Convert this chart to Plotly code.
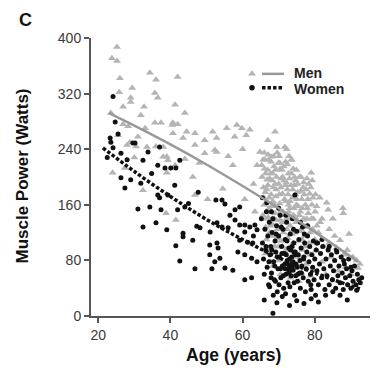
import plotly.graph_objects as go

# ---------------- data ----------------
men_age = [
    25.2, 23.8, 25.2, 26.0, 34.3, 36.0, 42.0, 25.8, 29.4, 29.0,
    29.0, 35.7, 36.5, 26.9, 32.7, 41.3, 44.0, 23.5, 31.8, 26.9,
    28.3, 35.7, 37.4, 40.7, 42.0, 28.0, 30.5, 33.5, 36.0, 40.7,
    43.5, 39.0, 24.0, 38.0, 39.3, 44.0, 32.4, 38.8, 41.5, 25.5,
    28.8, 31.0, 38.0, 27.4, 39.0, 41.3, 44.5, 40.5, 33.0, 30.0,
    46.8, 49.5, 51.7, 55.6, 58.4, 59.8, 61.0, 57.8, 52.8, 52.3,
    46.8, 49.5, 52.8, 57.3, 64.0, 54.5, 50.3, 46.8, 60.6, 63.4,
    65.3, 64.8, 46.2, 62.0, 60.0, 48.0, 56.0, 63.0, 69.0, 67.0,
    69.5, 71.7, 70.3, 68.0, 72.2, 66.0, 73.5, 65.6, 66.1, 66.3,
    66.0, 66.4, 66.8, 66.6, 67.2, 67.0, 67.4, 67.1, 67.6, 67.8,
    68.1, 68.3, 68.0, 68.5, 68.7, 68.9, 69.2, 69.0, 69.4, 69.6,
    69.8, 70.1, 70.0, 70.3, 70.4, 70.6, 70.9, 71.0, 71.2, 71.3,
    71.5, 71.7, 71.9, 72.0, 72.2, 72.4, 72.5, 72.7, 72.9, 73.0,
    73.2, 73.4, 73.6, 73.8, 74.0, 74.1, 74.3, 74.5, 74.7, 74.9,
    75.1, 75.3, 75.5, 75.6, 75.8, 76.0, 76.2, 76.4, 76.6, 76.8,
    77.0, 77.2, 77.4, 77.6, 77.8, 78.0, 78.2, 78.4, 78.6, 78.8,
    79.0, 79.2, 79.4, 79.6, 79.8, 80.0, 80.2, 80.4, 68.2, 70.8,
    72.8, 74.6, 76.5, 69.5, 71.1, 73.1, 67.5, 65.8, 66.9, 70.5,
    73.3, 76.3, 78.9, 68.4, 81.4, 83.3, 83.7, 87.8, 87.9, 80.5,
    82.0, 84.0, 85.5, 87.0, 89.0, 91.6, 92.0, 90.5, 86.0, 88.5,
    81.0, 82.5, 84.5, 83.0, 86.5, 85.0, 89.5, 81.5, 90.0, 92.5,
    84.0, 88.0, 82.0,
    65.4, 65.9, 66.2, 66.5, 66.7, 67.0, 67.3, 67.5, 67.7, 67.9,
    68.2, 68.4, 68.6, 68.8, 69.1, 69.3, 69.7, 69.9, 70.2, 70.5,
    70.7, 71.0, 71.4, 71.6, 71.8, 72.1, 72.3, 72.6, 72.9, 73.1,
    73.3, 73.5, 73.7, 73.9, 74.2, 74.4, 74.8, 75.0, 75.2, 75.7,
    75.9, 76.1, 76.7, 77.1, 77.3, 77.5, 77.9, 78.3, 78.7, 79.1,
    79.5, 80.1, 80.6, 70.0, 68.6, 72.0, 74.0, 76.0, 66.3, 67.8,
    66.4, 67.1, 67.9, 68.3, 69.0, 69.6, 70.4, 71.1, 71.9, 72.4,
    73.0, 73.6, 74.3, 74.9, 75.4, 76.2, 76.9, 77.6, 78.1, 78.9,
    79.3, 67.4, 68.9, 70.6, 72.7, 74.6, 76.5, 77.8, 65.7, 69.3,
]
men_power = [
    387, 371, 367, 342, 350, 340, 344, 322, 328, 314,
    308, 321, 314, 301, 301, 304, 292, 292, 289, 276,
    273, 278, 278, 278, 276, 246, 244, 243, 244, 263,
    256, 229, 206, 229, 224, 226, 181, 148, 138, 260,
    250, 258, 243, 213, 206, 217, 265, 275, 270, 228,
    263, 253, 265, 270, 275, 270, 260, 258, 256, 239,
    246, 234, 236, 217, 217, 183, 168, 174, 168, 150,
    217, 236, 200, 268, 240, 220, 230, 190, 265, 253,
    243, 243, 220, 229, 240, 235, 225, 145, 212, 178,
    160, 128, 196, 110, 225, 188, 170, 142, 95, 205,
    158, 132, 118, 185, 215, 100, 172, 148, 200, 125,
    80, 230, 190, 162, 138, 108, 210, 176, 150, 120,
    195, 92, 222, 165, 140, 182, 112, 205, 70, 155,
    130, 188, 100, 170, 212, 145, 120, 85, 195, 160,
    135, 178, 108, 50, 200, 150, 125, 168, 95, 185,
    140, 115, 160, 75, 198, 130, 148, 105, 176, 88,
    206, 160, 125, 140, 65, 110, 175, 95, 140, 128,
    150, 175, 110, 112, 100, 118, 120, 185, 150, 60,
    55, 62, 58, 72, 170, 163, 153, 155, 148, 158,
    140, 125, 115, 109, 95, 80, 69, 85, 98, 70,
    120, 100, 85, 60, 65, 140, 118, 135, 60, 75,
    105, 88, 78,
    200, 170, 225, 140, 182, 210, 155, 198, 130, 175,
    195, 165, 230, 140, 210, 182, 158, 220, 175, 150,
    198, 135, 215, 168, 145, 192, 125, 175, 230, 165,
    142, 205, 118, 182, 155, 200, 135, 168, 190, 145,
    122, 180, 138, 175, 100, 128, 155, 190, 120, 140,
    170, 150, 130, 100, 115, 95, 105, 85, 90, 78,
    205, 232, 222, 205, 190, 235, 212, 200, 188, 218,
    198, 225, 188, 210, 158, 200, 192, 182, 168, 185,
    195, 150, 160, 185, 160, 142, 155, 140, 225, 138,
]

women_age = [
    24.1, 24.7, 23.3, 23.5, 29.6, 24.1, 26.3, 33.8, 30.2, 37.0,
    36.5, 38.5, 40.1, 41.5, 42.6, 32.4, 26.3, 29.0, 27.4, 31.8,
    36.5, 37.0, 39.3, 41.2, 31.0, 34.3, 37.4, 42.0, 36.0, 44.0,
    32.4, 39.0, 43.5, 43.5, 41.5, 42.6, 25.5, 28.0, 34.8, 22.5,
    47.7, 52.6, 54.3, 55.1, 57.9, 59.2, 52.9, 54.3, 56.0, 57.9,
    59.2, 60.6, 62.0, 63.4, 64.0, 47.3, 48.2, 51.0, 60.6, 46.2,
    50.9, 52.9, 53.2, 50.9, 53.7, 52.3, 46.8, 51.5, 55.1, 57.3,
    58.7, 60.6, 62.5, 60.6, 62.5, 64.0, 59.2, 61.4, 62.8, 45.0,
    56.5, 63.0, 66.7, 65.5,
    65.2, 65.5, 65.8, 66.0, 66.2, 66.4, 66.6, 66.8, 67.0, 67.2,
    67.4, 67.6, 67.8, 68.0, 68.2, 68.4, 68.6, 68.8, 69.0, 69.2,
    69.4, 69.6, 69.8, 70.0, 70.2, 70.4, 70.6, 70.8, 71.0, 71.2,
    71.4, 71.6, 71.8, 72.0, 72.2, 72.4, 72.6, 72.8, 73.0, 73.2,
    73.4, 73.6, 73.8, 74.0, 74.2, 74.4, 74.6, 74.8, 75.0, 75.2,
    75.4, 75.6, 75.8, 76.0, 76.2, 76.4, 76.6, 76.8, 77.0, 77.2,
    77.4, 77.6, 77.8, 78.0, 78.2, 78.4, 78.6, 78.8, 79.0, 79.2,
    79.4, 79.6, 79.8, 80.0, 80.2, 80.4, 80.6, 80.8, 81.0, 81.3,
    81.6, 81.9, 82.2, 82.5, 82.8, 83.1, 83.4, 83.7, 84.0, 84.3,
    84.6, 84.9, 85.2, 85.5, 85.8, 86.1, 86.4, 86.7, 87.0, 87.3,
    87.6, 87.9, 88.2, 88.5, 88.8, 89.1, 89.4, 89.7, 90.0, 90.3,
    90.6, 91.0, 91.4, 91.8, 92.2, 92.6, 93.0, 68.1, 68.9, 69.7,
    70.5, 71.3, 72.1, 72.9, 73.7, 74.3, 75.1, 75.9, 69.1, 70.9,
    71.7, 73.3, 74.7, 76.3, 67.3, 67.9, 66.5, 69.3, 70.7, 72.3,
    74.1, 77.1, 78.9, 76.9, 73.1, 71.9, 70.1, 68.5, 66.0, 67.5,
    68.4, 69.5, 71.0, 73.0, 75.0, 77.0, 79.0, 81.0, 83.0, 85.0,
    87.0, 89.0, 91.6, 74.5, 80.5, 82.0, 84.0, 86.0, 88.0, 90.0,
    72.0, 70.0, 68.0, 76.0, 78.0,
    72.5, 73.0, 73.5, 74.0, 74.5, 72.8, 73.8, 74.2, 71.8, 75.3,
]
women_power = [
    316, 279, 256, 250, 249, 242, 234, 236, 249, 243,
    217, 213, 213, 213, 224, 224, 199, 196, 184, 191,
    174, 170, 174, 188, 154, 157, 153, 153, 134, 157,
    128, 124, 119, 114, 101, 79, 262, 225, 205, 228,
    178, 167, 167, 161, 153, 157, 134, 128, 127, 138,
    131, 131, 128, 131, 124, 129, 127, 121, 121, 109,
    102, 105, 98, 88, 83, 78, 68, 68, 69, 66,
    92, 88, 83, 52, 55, 78, 109, 106, 105, 162,
    145, 115, 163, 170,
    140, 105, 82, 60, 125, 95, 150, 70, 115, 45,
    135, 88, 100, 62, 120, 140, 78, 52, 108, 92,
    130, 35, 68, 115, 85, 145, 55, 100, 72, 125,
    40, 90, 110, 60, 135, 80, 48, 98, 70, 118,
    58, 85, 140, 66, 105, 30, 92, 75, 122, 50,
    88, 110, 62, 40, 98, 72, 128, 55, 85, 105,
    35, 68, 92, 115, 50, 78, 100, 60, 38, 88,
    70, 108, 52, 82, 30, 95, 65, 105, 45, 75,
    90, 55, 100, 68, 38, 82, 58, 95, 45, 72,
    88, 52, 65, 80, 40, 92, 58, 72, 48, 85,
    62, 38, 75, 55, 68, 45, 82, 58, 40, 65,
    50, 72, 45, 60, 52, 48, 55, 95, 72, 85,
    68, 58, 88, 62, 100, 48, 70, 80, 50, 90,
    75, 95, 58, 62, 78, 55, 100, 118, 128, 108,
    125, 118, 45, 82, 42, 32, 45, 30, 23, 42,
    4, 19, 28, 15, 22, 18, 25, 20, 30, 35,
    30, 23, 37, 174, 105, 110, 100, 95, 80, 70,
    145, 155, 150, 135, 130,
    75, 82, 68, 78, 88, 65, 72, 92, 68, 60,
]

# fitted curves
men_fit_age = [23, 30, 40, 50, 60, 70, 80, 92]
men_fit_power = [292, 274, 247, 218, 187, 155, 121, 78]
women_fit_age = [21.3, 30, 40, 50, 60, 70, 80, 92.5]
women_fit_power = [242, 208, 172, 139, 110, 84, 62, 39]

x_ticks = [20, 40, 60, 80]
y_ticks = [0, 80, 160, 240, 320, 400]
series_names = ["Men", "Women"]

assert len(men_age) == len(men_power)
assert len(women_age) == len(women_power)

# ---------------- styles ----------------
MEN_COLOR = "#b4b4b4"
MEN_LINE = "#999999"
WOMEN_COLOR = "#111111"
FONT = "Liberation Sans, Arial, Helvetica, sans-serif"
DOT_DASH = "3.5px,2px"

fig = go.Figure()

fig.add_trace(go.Scatter(
    x=men_age, y=men_power, mode="markers", name="Men",
    marker=dict(symbol="triangle-up", size=7, color=MEN_COLOR, line=dict(width=0)),
    showlegend=False))
fig.add_trace(go.Scatter(
    x=women_age, y=women_power, mode="markers", name="Women",
    marker=dict(symbol="circle", size=5, color=WOMEN_COLOR, line=dict(width=0)),
    showlegend=False))
fig.add_trace(go.Scatter(
    x=men_fit_age, y=men_fit_power, mode="lines", line=dict(color=MEN_LINE, width=2.5, shape="spline"),
    showlegend=False))
fig.add_trace(go.Scatter(
    x=women_fit_age, y=women_fit_power, mode="lines",
    line=dict(color=WOMEN_COLOR, width=3.5, shape="spline", dash=DOT_DASH),
    showlegend=False))

# ---- hand-made legend on an overlay [0,1] axis pair ----
leg_rows = [0.871, 0.821]
fig.add_trace(go.Scatter(x=[0.577], y=[leg_rows[0]], xaxis="x2", yaxis="y2", mode="markers",
                         marker=dict(symbol="triangle-up", size=7, color=MEN_COLOR),
                         showlegend=False, hoverinfo="skip"))
fig.add_trace(go.Scatter(x=[0.613, 0.692], y=[leg_rows[0], leg_rows[0]], xaxis="x2", yaxis="y2",
                         mode="lines", line=dict(color=MEN_LINE, width=2.5),
                         showlegend=False, hoverinfo="skip"))
fig.add_trace(go.Scatter(x=[0.577], y=[leg_rows[1]], xaxis="x2", yaxis="y2", mode="markers",
                         marker=dict(symbol="circle", size=5.5, color=WOMEN_COLOR),
                         showlegend=False, hoverinfo="skip"))
fig.add_trace(go.Scatter(x=[0.613, 0.690], y=[leg_rows[1], leg_rows[1]], xaxis="x2", yaxis="y2",
                         mode="lines", line=dict(color=WOMEN_COLOR, width=3.5, dash=DOT_DASH),
                         showlegend=False, hoverinfo="skip"))
for name, yy in zip(series_names, [0.873, 0.816]):
    fig.add_annotation(text="<b>%s</b>" % name, xref="paper", yref="paper", x=0.722, y=yy,
                       xanchor="left", yanchor="middle", showarrow=False,
                       font=dict(family=FONT, size=14, color="#222222"))

axis_common = dict(
    showgrid=False, zeroline=False, showline=True, linecolor="#555555", linewidth=2,
    ticks="outside", ticklen=5, tickwidth=1.5, tickcolor="#555555",
    tickfont=dict(family=FONT, size=14, color="#3a3a3a"),
)

# page body has an 8px margin, so the figure is sized/positioned to compensate
fig.update_layout(
    width=371, height=369,
    margin=dict(l=83, r=9, t=30, b=61),
    plot_bgcolor="white", paper_bgcolor="white",
    showlegend=False,
    font=dict(family=FONT),
    xaxis=dict(range=[18, 95.3], tickvals=x_ticks, **axis_common),
    yaxis=dict(range=[0, 400], tickvals=y_ticks, **axis_common),
    xaxis2=dict(range=[0, 1], overlaying="x", visible=False, fixedrange=True),
    yaxis2=dict(range=[0, 1], overlaying="y", visible=False, fixedrange=True),
)

# titles and panel letter
fig.add_annotation(text="<b>Muscle Power (Watts)</b>", xref="paper", yref="paper",
                   x=-0.247, y=0.502, textangle=-90, showarrow=False,
                   xanchor="center", yanchor="middle",
                   font=dict(family=FONT, size=17, color="#111111"))
fig.add_annotation(text="<b>Age (years)</b>", xref="paper", yref="paper",
                   x=0.509, y=-0.140, showarrow=False, xanchor="center", yanchor="middle",
                   font=dict(family=FONT, size=17.5, color="#111111"))
fig.add_annotation(text="<b>C</b>", xref="paper", yref="paper",
                   x=-0.233, y=1.066, showarrow=False, xanchor="center", yanchor="middle",
                   font=dict(family=FONT, size=18, color="#111111"))

fig.write_html("out.html")
